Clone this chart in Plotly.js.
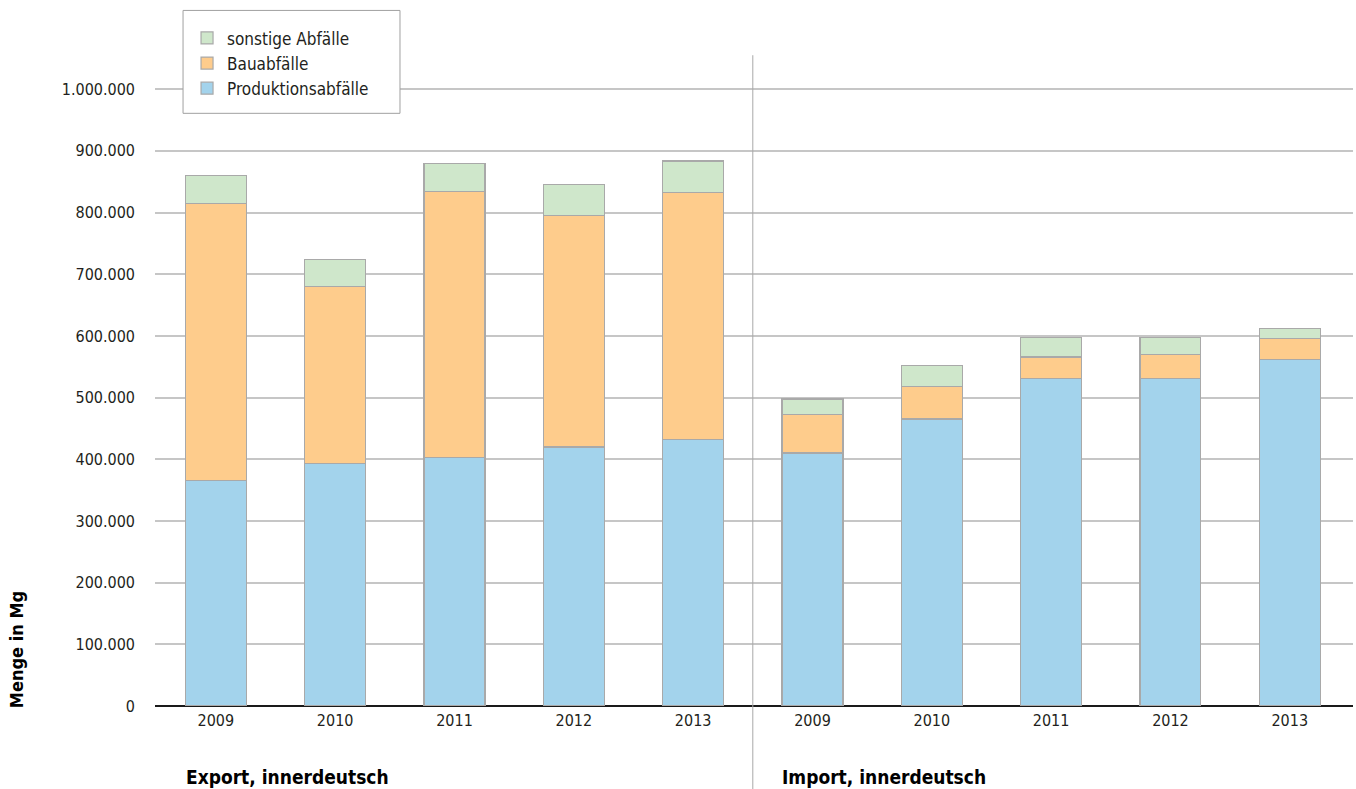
<!DOCTYPE html>
<html>
<head>
<meta charset="utf-8">
<script src="https://cdn.plot.ly/plotly-3.0.1.min.js"></script>
<style>
  html, body { margin: 0; padding: 0; background: #ffffff; }
  #chart { width: 1356px; height: 789px; }
</style>
</head>
<body>
<div id="chart"></div>
<script>
// Abfallmengen in Mg, innerdeutscher Export und Import, 2009–2013
const years = ["2009", "2010", "2011", "2012", "2013"];
const groupLabels = ["Export, innerdeutsch", "Import, innerdeutsch"];

const exportProduktion = [365000, 393500, 402600, 420000, 432400];
const exportBau        = [450000, 287100, 431900, 375600, 400000];
const exportSonstige   = [45400, 43800, 45300, 49700, 51200];

const importProduktion = [410200, 465300, 531200, 531200, 561900];
const importBau        = [62700, 52900, 34500, 39300, 34100];
const importSonstige   = [24700, 33400, 31200, 26400, 16100];

const seriesNames = ["Produktionsabfälle", "Bauabfälle", "sonstige Abfälle"];
const seriesColors = ["#a3d3ec", "#fecc8c", "#cfe7cb"];

// One slot per year in each group, export first, then import
const slots = years.concat(years).map((_, i) => i);
const tickText = years.concat(years);

const narrow = '"Liberation Sans Narrow", "Arial Narrow", "DejaVu Sans Condensed", sans-serif';
const textColor = "#231f20";

const seriesValues = [
  exportProduktion.concat(importProduktion),
  exportBau.concat(importBau),
  exportSonstige.concat(importSonstige)
];

const traces = seriesValues.map((vals, k) => ({
  type: "bar",
  name: seriesNames[k],
  x: slots,
  y: vals,
  width: 0.51,
  marker: { color: seriesColors[k], line: { color: "#a9a9a9", width: 1.2 } },
  hoverinfo: "name+y"
}));

const layout = {
  width: 1356,
  height: 789,
  margin: { l: 155, r: 3, t: 46, b: 83 },
  paper_bgcolor: "#ffffff",
  plot_bgcolor: "#ffffff",
  barmode: "stack",
  separators: ",.",
  font: { family: narrow, color: textColor, size: 16 },
  xaxis: {
    range: [-0.51, 9.53],
    tickvals: slots,
    ticktext: tickText,
    showgrid: false,
    zeroline: false,
    showline: false,
    ticks: "",
    ticklabelstandoff: 3,
    tickfont: { family: narrow, size: 16, color: textColor },
    fixedrange: true
  },
  yaxis: {
    range: [0, 1070000],
    tickvals: [0, 100000, 200000, 300000, 400000, 500000, 600000, 700000, 800000, 900000, 1000000],
    tickformat: ",d",
    showgrid: true,
    gridcolor: "#c6c6c6",
    gridwidth: 1.5,
    zeroline: true,
    zerolinecolor: "#1a1a1a",
    zerolinewidth: 1.5,
    showline: false,
    ticks: "",
    ticklabelstandoff: 19,
    tickfont: { family: narrow, size: 16, color: textColor },
    fixedrange: true
  },
  legend: {
    x: 0.0234,
    y: 1.0388,
    xanchor: "left",
    yanchor: "top",
    traceorder: "reversed",
    bgcolor: "rgba(0,0,0,0)",
    borderwidth: 0,
    indentation: 4,
    font: { family: narrow, size: 17, color: textColor }
  },
  shapes: [
    // framed white panel behind the legend entries
    {
      type: "rect",
      xref: "paper", yref: "paper",
      x0: 0.0234, x1: 0.2045,
      y0: 0.898, y1: 1.0539,
      fillcolor: "#ffffff",
      line: { color: "#a0a0a0", width: 1 },
      layer: "above"
    },
    // divider between export and import groups
    {
      type: "line",
      xref: "x", yref: "paper",
      x0: 4.5, x1: 4.5,
      y0: -0.13, y1: 0.986,
      line: { color: "#a8a8a8", width: 1 }
    }
  ],
  annotations: [
    {
      text: "<b>Menge in Mg</b>",
      textangle: -90,
      xref: "paper", yref: "paper",
      x: -0.115, y: 0.085,
      xanchor: "center", yanchor: "middle",
      showarrow: false,
      font: { family: narrow, size: 18, color: "#000000" }
    },
    {
      text: "<b>" + groupLabels[0] + "</b>",
      xref: "x", yref: "paper",
      x: -0.27, y: -0.108,
      xanchor: "left", yanchor: "middle",
      showarrow: false,
      font: { family: narrow, size: 19, color: "#000000" }
    },
    {
      text: "<b>" + groupLabels[1] + "</b>",
      xref: "x", yref: "paper",
      x: 4.73, y: -0.108,
      xanchor: "left", yanchor: "middle",
      showarrow: false,
      font: { family: narrow, size: 19, color: "#000000" }
    }
  ]
};

Plotly.newPlot("chart", traces, layout, { displayModeBar: false });
</script>
</body>
</html>
